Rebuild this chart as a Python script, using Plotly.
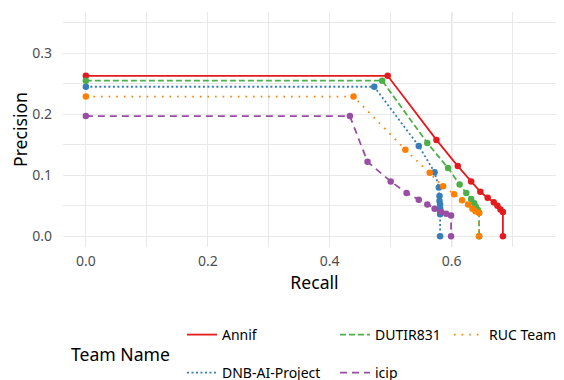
import plotly.graph_objects as go

teams = ["Annif", "DNB-AI-Project", "DUTIR831", "icip", "RUC Team"]
colors = ["#E41A1C", "#377EB8", "#4DAF4A", "#984EA3", "#FF7F00"]
dashes = ["solid", "2px,2.5px", "6px,3px", "7px,5px", "1.6px,6px"]

annif_recall = [0, 0.495, 0.575, 0.610, 0.632, 0.647, 0.659, 0.669, 0.675, 0.680, 0.684, 0.684]
annif_prec = [0.263, 0.263, 0.158, 0.115, 0.090, 0.073, 0.063, 0.056, 0.050, 0.044, 0.040, 0.0]

dnb_recall = [0, 0.473, 0.546, 0.572, 0.579, 0.580, 0.580, 0.581, 0.581, 0.581, 0.581, 0.581]
dnb_prec = [0.245, 0.245, 0.148, 0.105, 0.080, 0.066, 0.058, 0.052, 0.046, 0.040, 0.036, 0.0]

dutir_recall = [0, 0.486, 0.560, 0.594, 0.613, 0.624, 0.632, 0.637, 0.640, 0.643, 0.645, 0.645]
dutir_prec = [0.255, 0.255, 0.153, 0.112, 0.085, 0.071, 0.061, 0.054, 0.048, 0.043, 0.039, 0.0]

icip_recall = [0, 0.433, 0.462, 0.500, 0.526, 0.546, 0.560, 0.572, 0.583, 0.591, 0.599, 0.599]
icip_prec = [0.197, 0.197, 0.122, 0.090, 0.071, 0.060, 0.052, 0.045, 0.040, 0.037, 0.034, 0.0]

ruc_recall = [0, 0.439, 0.524, 0.564, 0.586, 0.604, 0.617, 0.627, 0.634, 0.639, 0.645, 0.645]
ruc_prec = [0.229, 0.229, 0.142, 0.104, 0.082, 0.069, 0.059, 0.052, 0.045, 0.041, 0.038, 0.0]

recalls = [annif_recall, dnb_recall, dutir_recall, icip_recall, ruc_recall]
precs = [annif_prec, dnb_prec, dutir_prec, icip_prec, ruc_prec]

x_ticks = [0, 0.2, 0.4, 0.6]
x_ticklabels = ["0.0", "0.2", "0.4", "0.6"]
y_ticks = [0, 0.1, 0.2, 0.3]
y_ticklabels = ["0.0", "0.1", "0.2", "0.3"]

W, H = 564, 380
L, R, T, B = 55, 6, 4, 141
PW, PH = W - L - R, H - T - B
# legend text start (screen pixel x) / row center y
legend_pos = {"Annif": (222, 335), "DUTIR831": (375, 335), "RUC Team": (489, 335),
              "DNB-AI-Project": (222, 373), "icip": (375, 373)}
legend_ids = {"Annif": "legend", "DNB-AI-Project": "legend2", "DUTIR831": "legend3",
              "icip": "legend4", "RUC Team": "legend5"}

fig = go.Figure()
for t, c, d, xr, yp in zip(teams, colors, dashes, recalls, precs):
    fig.add_trace(go.Scatter(x=xr, y=yp, mode="lines", name=t,
                             line=dict(color=c, width=1.8, dash=d),
                             legend=legend_ids[t], showlegend=True))
    fig.add_trace(go.Scatter(x=xr, y=yp, mode="markers", name=t,
                             marker=dict(color=c, size=6.5), showlegend=False,
                             hoverinfo="skip"))

font = "Noto Sans"
lay = dict(
    width=W, height=H,
    margin=dict(l=L, r=R, t=T, b=B, autoexpand=False),
    paper_bgcolor="white", plot_bgcolor="white",
    font=dict(family=font, size=14, color="#4d4d4d"),
    xaxis=dict(range=[-0.0375, 0.7875], tickvals=x_ticks, ticktext=x_ticklabels,
               showgrid=True, gridcolor="#e8e8e8", gridwidth=1.2, automargin=False,
               minor=dict(dtick=0.1, tick0=0, showgrid=True, gridcolor="#e8e8e8", gridwidth=1.2),
               zeroline=False, showline=False, ticks="",
               tickfont=dict(size=14, color="#4d4d4d"), ticklabelstandoff=4,
               title=dict(text="Recall", font=dict(size=17.6, color="black"), standoff=2)),
    yaxis=dict(range=[-0.0175, 0.3675], tickvals=y_ticks, ticktext=y_ticklabels,
               showgrid=True, gridcolor="#e8e8e8", gridwidth=1.2, automargin=False,
               minor=dict(dtick=0.05, tick0=0, showgrid=True, gridcolor="#e8e8e8", gridwidth=1.2),
               zeroline=False, showline=False, ticks="",
               tickfont=dict(size=14, color="#4d4d4d"), ticklabelstandoff=10,
               title=dict(text="Precision", font=dict(size=17.6, color="black"), standoff=6)),
    shapes=[dict(type="line", xref="x", yref="paper", x0=0.6, x1=0.6, y0=0, y1=1,
                 line=dict(color="#c9c9c9", width=1.2), layer="below")],
    annotations=[dict(text="Team Name", xref="paper", yref="paper",
                      x=(112 - L) / PW, y=-(346 - (H - B)) / PH,
                      xanchor="center", yanchor="middle", showarrow=False,
                      font=dict(size=17.6, color="black", family=font))],
)
for t in teams:
    px, py = legend_pos[t]
    lay[legend_ids[t]] = dict(
        xref="container", yref="container",
        x=(px - 48) / W, y=1 - (py - 8) / H, xanchor="left", yanchor="middle",
        orientation="h", bgcolor="rgba(0,0,0,0)", borderwidth=0,
        font=dict(size=14, color="black", family=font), itemwidth=30,
    )
fig.update_layout(**lay)
fig.write_html("out.html")
